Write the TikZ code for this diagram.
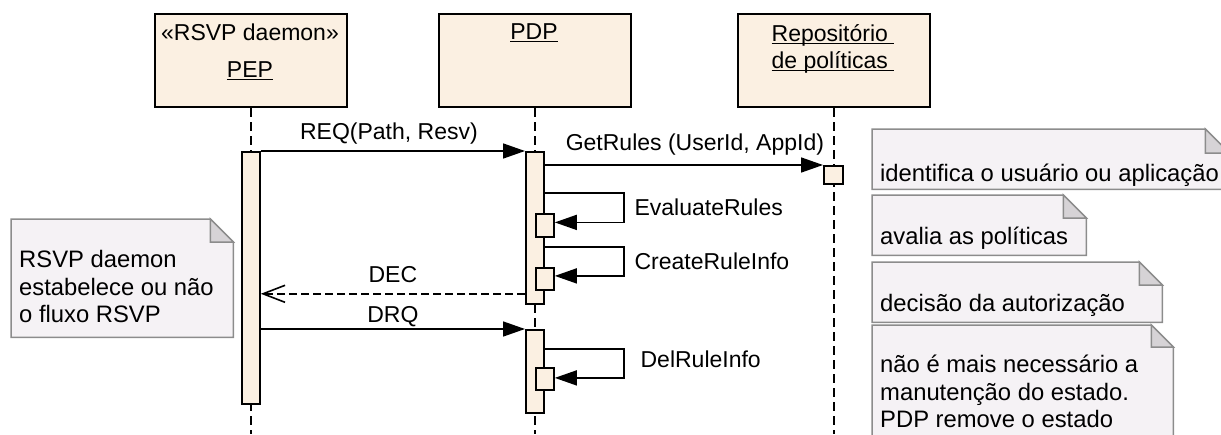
\documentclass[tikz,border=0pt]{standalone}
\usepackage{fontspec}
\setmainfont{Liberation Sans}
\usetikzlibrary{arrows.meta,calc}

\definecolor{headfill}{RGB}{251,240,226}
\definecolor{notefill}{RGB}{245,242,245}
\definecolor{notegray}{RGB}{140,140,140}
\definecolor{foldfill}{RGB}{214,211,214}

\newcommand{\ulname}[1]{\setbox0\hbox{#1}\rlap{\rule[-3pt]{\wd0}{1.5pt}}\box0}

\tikzset{
  headbox/.style = {draw, line width=2pt, fill=headfill, anchor=north west, minimum width=192pt, minimum height=93pt, inner sep=0pt},
  headtext/.style = {anchor=base, inner sep=0pt},
  actbox/.style = {draw, line width=1.8pt, fill=headfill, anchor=north west, minimum width=18pt, inner sep=0pt},
  lifeline/.style = {line width=1.6pt, dash pattern=on 9pt off 5pt},
  msg/.style = {line width=1.6pt, -{Triangle[length=22pt,width=15pt]}},
  reply/.style = {line width=1.6pt, dash pattern=on 8pt off 4pt, -{Straight Barb[length=22pt,width=17pt]}},
  msglabel/.style = {anchor=base, inner sep=0pt},
  selflabel/.style = {anchor=west, inner sep=0pt, xshift=10pt},
  noteframe/.style = {anchor=north west, inner sep=0pt},
  noteborder/.style = {draw=notegray, line width=1.5pt, fill=notefill},
  notetext/.style = {anchor=north west, inner sep=0pt, align=left, font=\fontsize{23.8}{27.5}\selectfont, execute at begin node=\strut}
}

\begin{document}
\begin{tikzpicture}[x=1pt, y=-1pt, font=\fontsize{23}{27.5}\selectfont]
\useasboundingbox (0,0) rectangle (1221,434);

% heads
\node[headbox] (pep) at (154,13) {};
\node[headbox] (pdp) at (438,13) {};
\node[headbox] (rep) at (737,13) {};
\node[headtext] (pepst) at (250,40) {«RSVP daemon»};
\node[headtext] (pepname) at (250,77) {\ulname{PEP}};
\node[headtext] (pdpname) at (534,39) {\ulname{PDP}};
\node[headtext] (repname) at (833,41) {\ulname{Repositório\ }};
\node[headtext] (repname2) at (833,68) {\ulname{de políticas\ }};

% lifelines
\foreach \h in {pep,pdp,rep} \draw[lifeline] (\h.south) -- (\h.south |- 0,434);

% activations
\node[actbox, minimum height=252pt] (pepact) at (241,151) {};
\node[actbox, minimum height=152pt] (pdpact1) at (525,151) {};
\node[actbox, minimum height=83pt] (pdpact2) at (525,329) {};
\node[actbox, minimum width=19pt, minimum height=18pt] (repact) at (823,165) {};
\node[actbox, minimum height=23pt] (evalact) at (535,213) {};
\node[actbox, minimum height=22pt] (crinfo) at (535,267) {};
\node[actbox, minimum height=22pt] (delinfo) at (535,367) {};

% messages
\draw[msg] (pepact.north east) -- node[msglabel, yshift=12pt, xshift=-4pt] {REQ(Path, Resv)} (pdpact1.north west);
\draw[msg] (pdpact1.east |- repact.north) -- node[msglabel, yshift=15pt, xshift=11pt] {GetRules (UserId, AppId)} (repact.north west);
\draw[msg] ($(pdpact1.north east)+(0,42)$) -- ++(79,0) |- node[pos=.25, selflabel] {EvaluateRules} ([yshift=3pt]evalact.east);
\draw[msg] ($(pdpact1.north east)+(0,96)$) -- ++(79,0) |- node[pos=.25, selflabel] {CreateRuleInfo} ([yshift=3pt]crinfo.east);
\draw[reply] ($(pdpact1.south west)+(0,-11)$) -- node[msglabel, yshift=11pt] {DEC} ($(pepact.east |- pdpact1.south)+(0,-11)$);
\draw[msg] (pepact.east |- pdpact2.north) -- node[msglabel, yshift=7pt] {DRQ} (pdpact2.north west);
\draw[msg] ($(pdpact2.north east)+(0,20)$) -- ++(79,0) |- node[pos=.25, selflabel, xshift=6pt, yshift=4pt] {DelRuleInfo} ([yshift=1pt]delinfo.east);

% notes
\node[noteframe, minimum width=357pt, minimum height=60pt] (nident) at (872,129) {};
\node[noteframe, minimum width=214pt, minimum height=60pt] (neval) at (872,195) {};
\node[noteframe, minimum width=290pt, minimum height=60pt] (ndec) at (872,262) {};
\node[noteframe, minimum width=301pt, minimum height=125pt] (ndel) at (872,325) {};
\node[noteframe, minimum width=222pt, minimum height=118pt] (npep) at (11,219) {};
\foreach \n/\f in {nident/24, neval/23, ndec/23, ndel/22, npep/23} {
  \draw[noteborder] (\n.north west) -- ($(\n.north east)+(-\f,0)$) -- ($(\n.north east)+(0,\f)$) -- (\n.south east) -- (\n.south west) -- cycle;
  \draw[noteborder, fill=foldfill] ($(\n.north east)+(-\f,0)$) |- ($(\n.north east)+(0,\f)$) -- cycle;
}
\node[notetext] (tident) at (880,161.75) {identifica o usuário ou aplicação};
\node[notetext] (teval) at (880,225.25) {avalia as políticas};
\node[notetext] (tdec) at (880,291.75) {decisão da autorização};
\node[notetext] (tdel) at (880,355.25) {não é mais necessário a\\manutenção do estado.\\PDP remove o estado};
\node[notetext] (tpep) at (19,250.25) {RSVP daemon\\estabelece ou não\\o fluxo RSVP};
\end{tikzpicture}
\end{document}
